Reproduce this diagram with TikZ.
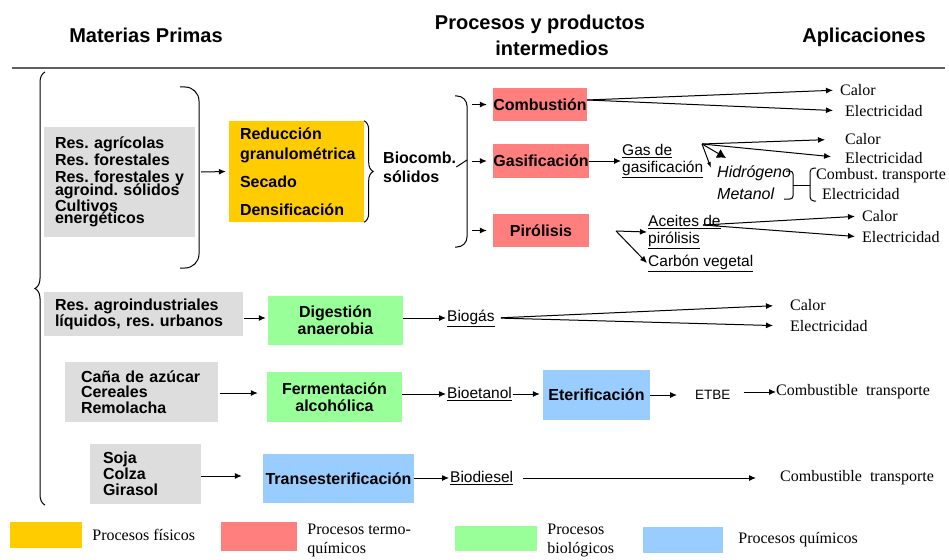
\documentclass[tikz,border=0pt]{standalone}
\usepackage{fontspec}
\setmainfont{Liberation Serif}
\setsansfont{Liberation Sans}
\usetikzlibrary{arrows.meta, positioning, decorations.pathreplacing}
\definecolor{fisico}{HTML}{FFCC00}
\definecolor{termo}{HTML}{FF7F7F}
\definecolor{biolog}{HTML}{99FF99}
\definecolor{quimico}{HTML}{99CCFF}
\definecolor{mpgray}{HTML}{DDDDDD}
\frenchspacing

\begin{document}
\begin{tikzpicture}[x=1pt, y=-1pt,
    font=\fontsize{16}{17}\selectfont\sffamily\bfseries,
    mp/.style={fill=mpgray, inner xsep=11pt, inner ysep=0pt, align=left},
    proc/.style={inner sep=0pt, align=center},
    fis/.style={proc, fill=fisico},
    termo/.style={proc, fill=termo},
    bio/.style={proc, fill=biolog},
    quim/.style={proc, fill=quimico},
    head/.style={font=\fontsize{20}{26}\selectfont\sffamily\bfseries, align=center},
    prod/.style={font=\fontsize{15.5}{17}\selectfont\sffamily, inner sep=1pt, align=left, anchor=west},
    apl/.style={font=\fontsize{16}{18}\selectfont\rmfamily, inner sep=0pt, anchor=west},
    leg/.style={font=\fontsize{16}{19}\selectfont\rmfamily, inner sep=0pt, anchor=west, align=left},
    ar/.style={-{Latex[length=7pt, width=6pt]}, line width=1pt},
    ln/.style={line width=1pt}
  ]
  \useasboundingbox (0,0) rectangle (949,559);
  % encabezados
  \node[head] (hmp) at (146,35) {Materias Primas};
  \node[head] (hproc) at (540,35) {Procesos y productos\\\hspace*{24pt}intermedios};
  \node[head] (hapl) at (864,37) {Aplicaciones};
  \draw[line width=1.5pt, gray!75!black] (12,68) -- (945,68);
  \draw[ln, decorate, decoration={brace, amplitude=10pt}] (45,505) -- (45,72);

  % materias primas
  \node[mp, text width=129pt, minimum height=110pt] (mp1) at (119.5,182)
    {Res. agrícolas\\Res. forestales\\Res. forestales y\\[-4pt]agroind. sólidos\\[-1pt]Cultivos\\[-5pt]energéticos};
  \node[mp, text width=177pt, minimum height=44pt] (mp2) at (143.5,314)
    {Res. agroindustriales\\[-1pt]líquidos, res. urbanos};
  \node[mp, inner xsep=16pt, text width=121pt, minimum height=60pt] (mp3) at (141.5,392)
    {Caña de azúcar\\[-2pt]Cereales\\[-1pt]Remolacha};
  \node[mp, inner xsep=13pt, text width=85pt, minimum height=60pt] (mp4) at (145.5,474)
    {Soja\\[-1pt]Colza\\[-1pt]Girasol};

  % procesos
  \node[fis, align=left, inner xsep=11pt, text width=113pt, minimum height=101pt] (red) at (296.5,171.5)
    {Reducción\\[3pt]granulométrica\\[11pt]Secado\\[11pt]Densificación};
  \node[align=left, inner sep=0pt, anchor=west] (solid) at (383,167) {Biocomb.\\[2pt]sólidos};
  \node[termo, minimum width=94pt, minimum height=33pt] (comb) at (540,104.5) {Combustión};
  \node[termo, minimum width=96pt, minimum height=34pt] (gasif) at (541,161) {Gasificación};
  \node[termo, minimum width=96pt, minimum height=33pt] (piro) at (541,230.5) {Pirólisis};
  \node[bio, minimum width=135pt, minimum height=49pt] (dig) at (335.5,320.5) {Digestión\\anaerobia};
  \node[bio, minimum width=135pt, minimum height=50pt] (ferm) at (334.5,397) {Fermentación\\alcohólica};
  \node[quim, minimum width=107pt, minimum height=50pt] (eter) at (596.5,395) {Eterificación};
  \node[quim, minimum width=151pt, minimum height=49pt] (trans) at (338.5,478.5) {Transesterificación};

  % productos intermedios
  \node[prod] (gas) at (621,161) {\underline{Gas de}\\\underline{gasificación}};
  \node[prod] (aceite) at (647,232) {\underline{Aceites de}\\\underline{pirólisis}};
  \node[prod] (carbon) at (647,263) {\underline{Carbón vegetal}};
  \node[prod] (biogas) at (446,318) {\underline{Biogás}};
  \node[prod] (bioet) at (446,394) {\underline{Bioetanol}};
  \node[prod] (biodi) at (449,478) {\underline{Biodiesel}};
  \node[prod, font=\fontsize{16}{22}\selectfont\sffamily\itshape] (hidro) at (716,183) {Hidrógeno\\Metanol};
  \node[prod, font=\fontsize{13.5}{16}\selectfont\sffamily] (etbe) at (694,395) {ETBE};

  % aplicaciones
  \node[apl] (cal1) at (840,90) {Calor};
  \node[apl] (ele1) at (845,111) {Electricidad};
  \node[apl] (cal2) at (845,139) {Calor};
  \node[apl] (ele2) at (845,158) {Electricidad};
  \node[apl] (comtr) at (816,176) {Combust. transporte};
  \node[apl] (ele3) at (822,194) {Electricidad};
  \node[apl] (cal3) at (862,216) {Calor};
  \node[apl] (ele4) at (862,237) {Electricidad};
  \node[apl] (cal4) at (790,305) {Calor};
  \node[apl] (ele5) at (790,326) {Electricidad};
  \node[apl] (ctr1) at (776,392) {Combustible\ \ transporte};
  \node[apl] (ctr2) at (780,478) {Combustible\ \ transporte};

  % llaves y parentesis
  \draw[ln, rounded corners=14pt] (180,87) -| (199,177) |- (180,268);
  \draw[ln, decorate, decoration={brace, amplitude=9pt}] (red.north east) -- (red.south east);
  \draw[ln, rounded corners=10pt] (455,96) -| (467,170) |- (455,247);
  \draw[ln] (solid.east) -- (467,160);
  \draw[ln, rounded corners=3pt] (786,171) -| (793,185) |- (784,199);
  \draw[ln] (793,185) -- (810,185);
  \draw[ln, rounded corners=4pt] (816,168) -| (810,185) |- (816,201);

  \coordinate (pb1) at (201,172);
  \coordinate (cfork) at (587,100);
  \coordinate (gfork) at (702,144);
  \coordinate (htip) at (726,158);
  \coordinate (mtip) at (711,168);
  \coordinate (pfork) at (616,231);
  \coordinate (afork) at (703,225);

  % flechas
  \draw[ar, shorten >=3pt] (pb1) -- (red.west);
  \foreach \p in {comb, gasif, piro}
    \draw[ar, shorten >=6pt] ([xshift=-21pt]\p.west) -- (\p.west);
  \draw[ar, shorten >=7pt] (cfork) -- (cal1.west);
  \draw[ar, shorten >=12pt] (cfork) -- (ele1.west);
  \draw[ar] (gasif.east) -- (gas.west);
  \draw[ar, shorten >=20pt] (gfork) -- (cal2.west);
  \draw[ar, shorten >=14pt] (gfork) -- (ele2.west);
  \draw[-{Latex[length=9pt, width=10pt]}, line width=1pt] (gfork) -- (htip);
  \draw[-{Latex[length=6pt, width=4pt]}, line width=1pt] (gfork) -- (mtip);
  \draw[ar] (pfork) -- (aceite.west);
  \draw[ar] (pfork) -- (carbon.west);
  \draw[ar, shorten >=7pt] (afork) -- (cal3.west);
  \draw[ar, shorten >=7pt] (afork) -- (ele4.west);

  \draw[ar, shorten <=1pt, shorten >=2pt] (mp2.east |- 0,318) -- (dig.west |- 0,318);
  \draw[ar] (dig.east |- biogas.west) -- (biogas.west);
  \draw[ar, shorten <=5pt, shorten >=17pt] (biogas.east) -- (cal4.west);
  \draw[ar, shorten <=5pt, shorten >=17pt] (biogas.east) -- (ele5.west);

  \draw[ar, shorten <=2pt, shorten >=9pt] (mp3.east |- 0,393) -- (ferm.west |- 0,393);
  \draw[ar] (ferm.east |- bioet.west) -- (bioet.west);
  \draw[ar, shorten >=3pt] (bioet.east) -- (eter.west |- bioet.east);
  \draw[ar, shorten >=17pt] (eter.east |- etbe.west) -- (etbe.west);
  \draw[ar, shorten <=12pt] ([yshift=3pt]etbe.east) -- (ctr1.west |- 0,392);

  \draw[ar, shorten >=21pt] (mp4.east |- 0,476) -- (trans.west |- 0,476);
  \draw[ar] (trans.east |- biodi.west) -- (biodi.west);
  \draw[ar, shorten <=9pt, shorten >=24pt] (biodi.east) -- (ctr2.west);

  % leyenda
  \node[fill=fisico, minimum width=72pt, minimum height=26pt, inner sep=0pt] (lfis) at (46,535) {};
  \node[fill=termo, minimum width=76pt, minimum height=29pt, inner sep=0pt] (lterm) at (259,536.5) {};
  \node[fill=biolog, minimum width=82pt, minimum height=25pt, inner sep=0pt] (lbio) at (496,538.5) {};
  \node[fill=quimico, minimum width=80pt, minimum height=26pt, inner sep=0pt] (lqui) at (683,540) {};
  \node[leg, right=10pt of lfis] (tfis) {Procesos físicos};
  \node[leg, right=10pt of lterm, yshift=-4pt] (tterm) {Procesos termo-\\químicos};
  \node[leg, right=10pt of lbio, yshift=-2pt] (tbio) {Procesos\\biológicos};
  \node[leg, right=15pt of lqui] (tqui) {Procesos químicos};
\end{tikzpicture}
\end{document}
